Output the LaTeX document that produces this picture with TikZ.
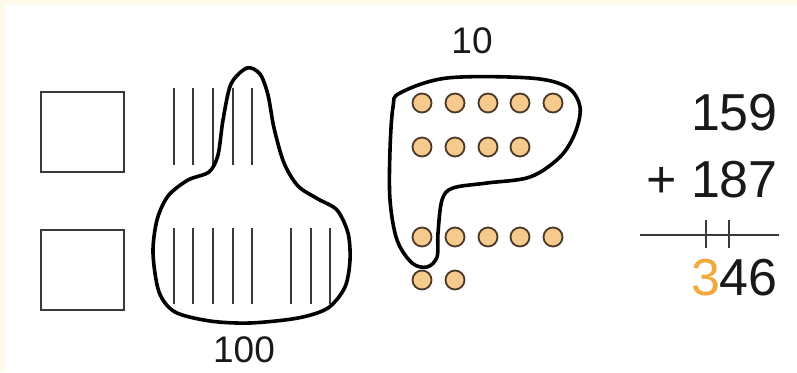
\documentclass[tikz,border=0pt]{standalone}
\usepackage{fontspec}
\setmainfont{Liberation Sans}
\usepackage{xcolor}
\usepackage{tikz}

\definecolor{creambg}{HTML}{FEF9EB}
\definecolor{beadfill}{HTML}{F6C98D}
\definecolor{beadline}{HTML}{4A3828}
\definecolor{carryorange}{HTML}{F2A93B}
\definecolor{inkgray}{HTML}{3A3A3A}

\begin{document}
\begin{tikzpicture}[x=1pt, y=-1pt]
                \tikzstyle{placebox} = [rectangle, draw=inkgray, line width=1.4pt, minimum width=83pt, minimum height=80pt, inner sep=0pt]
                \tikzstyle{bead} = [circle, draw=beadline, fill=beadfill, line width=1.8pt, minimum size=19pt, inner sep=0pt]
                \tikzstyle{stick} = [draw=inkgray, line width=1.8pt]
                \tikzstyle{loop} = [draw=black, line width=3.6pt, line join=round]
                \tikzstyle{bignum} = [anchor=base east, inner sep=0pt, text=black!90, font=\fontsize{52}{52}\selectfont]
                \tikzstyle{label} = [anchor=base, inner sep=0pt, text=black!90, font=\fontsize{37}{37}\selectfont]

                % background
                \fill[creambg] (0,0) rectangle (797,372);
                \fill[white] (5,5) rectangle (797,372);
                \useasboundingbox (0,0) rectangle (797,372);

                % place value boxes
                \node (tensbox) [placebox] at (82.5,132) {};
                \node (onesbox) [placebox] at (82.5,270) {};

                % sticks, top row
                \draw[stick] (174,88) -- (174,165);
                \draw[stick] (193,88) -- (193,165);
                \draw[stick] (213,88) -- (213,165);
                \draw[stick] (233,88) -- (233,165);
                \draw[stick] (252,88) -- (252,165);
                % sticks, bottom row
                \draw[stick] (174,228) -- (174,304);
                \draw[stick] (193,228) -- (193,304);
                \draw[stick] (213,228) -- (213,304);
                \draw[stick] (233,228) -- (233,304);
                \draw[stick] (252,228) -- (252,304);
                \draw[stick] (291,228) -- (291,304);
                \draw[stick] (311,228) -- (311,304);
                \draw[stick] (330,228) -- (330,304);

                % ring round the hundred
                \draw[loop] plot[smooth cycle, tension=0.5] coordinates {
                    (247,68) (260,74) (268,95) (274,128) (284,163) (298,186) (318,199)
                    (337,210) (348,233) (350,260) (345,287) (328,308) (298,318)
                    (250,323) (210,321) (175,312) (159,292) (153,253) (157,220)
                    (168,196) (188,180) (209,172) (218,155) (223,120) (231,84)};
                \node (hundredlabel) [label] at (244,362) {100};

                % beads
                \node (b11) [bead] at (422,103) {};
                \node (b12) [bead] at (455,103) {};
                \node (b13) [bead] at (488,103) {};
                \node (b14) [bead] at (520,103) {};
                \node (b15) [bead] at (553,103) {};
                \node (b21) [bead] at (422,147) {};
                \node (b22) [bead] at (455,147) {};
                \node (b23) [bead] at (488,147) {};
                \node (b24) [bead] at (520,147) {};
                \node (b31) [bead] at (422,237) {};
                \node (b32) [bead] at (455,237) {};
                \node (b33) [bead] at (488,237) {};
                \node (b34) [bead] at (520,237) {};
                \node (b35) [bead] at (553,237) {};
                \node (b41) [bead] at (422,280) {};
                \node (b42) [bead] at (455,280) {};

                % ring round the ten
                \draw[loop] plot[smooth cycle, tension=0.55] coordinates {
                    (400,93) (447,78) (530,78) (567,87) (580,107) (575,133) (560,157)
                    (530,177) (487,183) (453,188) (442,200) (438,233) (437,257)
                    (427,267) (412,263) (397,240) (390,200) (390,150) (393,107)};
                \node (tenlabel) [label] at (472,53) {10};

                % written sum
                \node (addend) [bignum] at (778,130) {159};
                \node (augend) [bignum] at (778,197) {+ 187};
                \coordinate (rulestart) at (640,235);
                \coordinate (ruleend) at (779,235);
                \draw[draw=inkgray, line width=1.6pt] (rulestart) -- (ruleend);
                \draw[draw=inkgray, line width=1.6pt] (706,220) -- (706,248);
                \draw[draw=inkgray, line width=1.6pt] (729,220) -- (729,248);
                \node (total) [bignum] at (778,295) {{\color{carryorange}3}46};
            \end{tikzpicture}
\end{document}
